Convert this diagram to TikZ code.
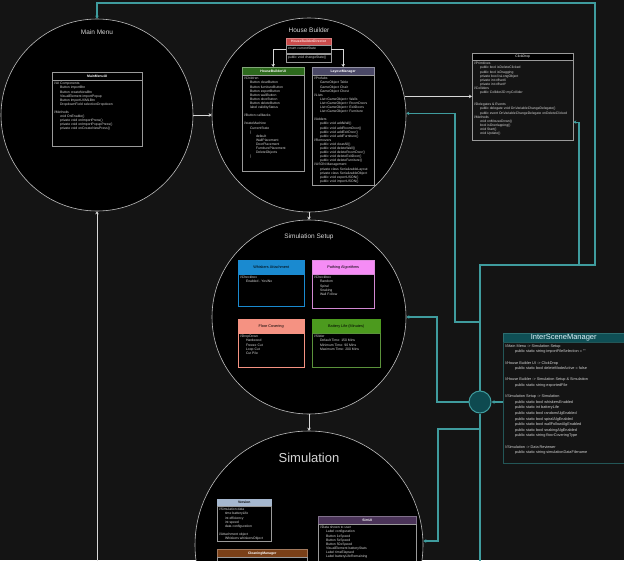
\documentclass[tikz,border=0pt]{standalone}
\usepackage{fontspec}
\setmainfont{Liberation Sans}
\usetikzlibrary{arrows.meta,positioning}
\definecolor{bgdark}{HTML}{141414}
\definecolor{ringgray}{HTML}{BDBDBD}
\definecolor{boxgray}{HTML}{9A9A9A}
\definecolor{textgray}{HTML}{D6D6D6}
\definecolor{flowgray}{HTML}{D8D8D8}
\definecolor{linkteal}{HTML}{3F9C9E}
\definecolor{hubfill}{HTML}{0E4A50}
\definecolor{dirred}{HTML}{C94B4B}
\definecolor{uigreen}{HTML}{2D6A1D}
\definecolor{lmpurple}{HTML}{4A4866}
\definecolor{wablue}{HTML}{1A8AD0}
\definecolor{papink}{HTML}{F58CF5}
\definecolor{fcsalmon}{HTML}{F59282}
\definecolor{blgreen}{HTML}{4C9A1E}
\definecolor{verblue}{HTML}{A6B8CF}
\definecolor{cmbrown}{HTML}{7A4018}
\definecolor{suipurple}{HTML}{4A3358}
\definecolor{ismteal}{HTML}{0F4F55}
\newcommand{\indA}{\hspace*{6pt}}
\newcommand{\indB}{\hspace*{10pt}}
\tikzset{
  scene/.style={circle, draw=ringgray, fill=black, line width=0.6pt, inner sep=0pt, minimum size=194},
  scenetitle/.style={text=textgray, font=\fontsize{6.5}{7}\selectfont},
  hdr/.style={anchor=north west, draw=boxgray, fill=black, line width=0.4pt, inner sep=0pt, minimum height=8, text=white, font=\fontsize{3.4}{4}\selectfont\bfseries},
  sshdr/.style={hdr, minimum height=14, text=black, font=\fontsize{3.8}{4}\selectfont},
  body/.style={draw=boxgray, fill=black, line width=0.4pt, inner sep=0pt},
  txt/.style={anchor=north west, text=textgray, align=left, inner sep=1.8pt, font=\fontsize{3.4}{4.1}\selectfont},
  flow/.style={draw=flowgray, line width=0.8pt, -{Stealth[length=3pt,width=3.5pt]}},
  link/.style={draw=linkteal, line width=1.1pt},
  linkarr/.style={link, -{Stealth[length=3pt,width=3.5pt]}},
  hub/.style={circle, draw=linkteal, fill=hubfill, line width=1pt, inner sep=0pt, minimum size=22},
}
\begin{document}
\begin{tikzpicture}[x=1pt, y=-1pt]
  \useasboundingbox (0,0) rectangle (624,560);
  \fill[bgdark] (0,0) rectangle (624,560);

  % --- Scenes ---
  \node[scene, minimum size=192] (mm) at (97,115) {};
  \node[scene] (hb) at (309,115) {};
  \node[scene] (ss) at (309,317) {};
  \node[scene, minimum size=228] (sim) at (309,545) {};

  \node[scenetitle] (mmtitle) at (97,32) {Main Menu};
  \node[scenetitle] (hbtitle) at (309,30) {House Builder};
  \node[scenetitle] (sstitle) at (309,237) {Simulation Setup};
  \node[scenetitle, font=\fontsize{13}{14}\selectfont] (simtitle) at (309,458) {Simulation};

  % --- Main Menu ---
  \node[hdr, minimum width=90] (mmhdr) at (52,72) {MainMenuUI};
  \node[body, minimum width=90, minimum height=66, below=0pt of mmhdr] (mmbody) {};
  \node[txt] (mmtxt) at (mmbody.north west) {//UI Components\\
    \indA Button importBtn\\ \indA Button createNewBtn\\ \indA VisualElement importPopup\\
    \indA Button ImportUXMLBtn\\ \indA DropdownField selectionDropdown\\[4.1pt]
    //Methods\\ \indA void OnEnable()\\ \indA private void onImportPress()\\
    \indA private void onImportPopupPress()\\ \indA private void onCreateNewPress()};

  % --- House Builder ---
  \node[hdr, minimum width=45, minimum height=7, fill=dirred, draw=dirred!70!white, text=red!15!white] (dirhdr) at (286,38) {HouseBuilderDirector};
  \node[body, minimum width=45, minimum height=8, below=0pt of dirhdr] (dirstate) {};
  \node[body, minimum width=45, minimum height=8, below=0pt of dirstate] (dirmeth) {};
  \node[txt] (dirstatetxt) at (dirstate.north west) {enum currentState};
  \node[txt] (dirmethtxt) at (dirmeth.north west) {public void changeState()};

  \node[hdr, minimum width=62, fill=uigreen, draw=uigreen!60!white] (hbuihdr) at (242,67) {HouseBuilderUI};
  \node[body, minimum width=62, minimum height=96, below=0pt of hbuihdr] (hbuibody) {};
  \node[txt] (hbuitxt) at (hbuibody.north west) {//Children\\
    \indA Button clearButton\\ \indA Button furnitureButton\\ \indA Button exportButton\\
    \indA Button wallButton\\ \indA Button doorButton\\ \indA Button deleteButton\\
    \indA label validityStatus\\[4.1pt]
    //Button callbacks\\[4.1pt]
    //stateMachine\\ \indA CurrentState\\ \indA \{\\
    \indA\indA default\\ \indA\indA WallPlacement\\ \indA\indA DoorPlacement\\
    \indA\indA FurniturePlacement\\ \indA\indA DeleteObjects\\ \indA \}};

  \node[hdr, minimum width=62, fill=lmpurple, draw=lmpurple!60!white] (lmhdr) at (312,67) {LayoutManager};
  \node[body, minimum width=62, minimum height=110, below=0pt of lmhdr] (lmbody) {};
  \node[txt] (lmtxt) at (lmbody.north west) {//Prefabs\\
    \indA GameObject Table\\ \indA GameObject Chair\\ \indA GameObject Chest\\
    //Lists\\ \indA List<GameObject> Walls\\ \indA List<GameObject> RoomDoors\\
    \indA List<GameObject> ExitDoors\\ \indA List<GameObject> Furniture\\[4.1pt]
    //Adders\\ \indA public void addWall()\\ \indA public void addRoomDoor()\\
    \indA public void addExitDoor()\\ \indA public void addFurniture()\\
    //Removers\\ \indA public void clearAll()\\ \indA public void deleteWall()\\
    \indA public void deleteRoomDoor()\\ \indA public void deleteExitDoor()\\
    \indA public void deleteFurniture()\\
    //USON Management\\ \indA private class SerializableLayout\\
    \indA private class SerializableObject\\ \indA public void exportUSON()\\
    \indA public void importUSON()};

  \draw[flow] (dirstate.west) -| (hbuihdr.north);
  \draw[flow] (dirstate.east) -| (lmhdr.north);

  % --- ClickDrop ---
  \node[hdr, minimum width=101, minimum height=7, font=\fontsize{3.4}{4}\selectfont] (cdhdr) at (472,53) {ClickDrop};
  \node[body, minimum width=101, minimum height=80, fill=bgdark, below=0pt of cdhdr] (cdbody) {};
  \node[txt] (cdtxt) at (cdbody.north west) {//Primitives\\
    \indA public bool isDeleteClicked\\ \indA public bool isDragging\\
    \indA private bool isLongObject\\ \indA private int offsetX\\ \indA private int offsetY\\
    //Colliders\\ \indA public Collider2D myCollider\\[8.2pt]
    //Delegates \& Events\\
    \indA public delegate void OnVariableChangeDelegate()\\
    \indA public event OnVariableChangeDelegate onDeleteClicked\\
    //Methods\\ \indA void onMouseDown()\\ \indA bool isOverlapping()\\
    \indA void Start()\\ \indA void Update()};

  % --- Simulation Setup ---
  \node[sshdr, minimum width=66, fill=wablue, draw=wablue] (wahdr) at (238,260) {Whiskers Attachment};
  \node[body, minimum width=66, minimum height=32, draw=wablue, below=0pt of wahdr] (wabody) {};
  \node[txt] (watxt) at (wabody.north west) {//Checkbox\\ \indA Enabled - Yes/No};

  \node[sshdr, minimum width=62, fill=papink, draw=papink!80!gray] (pahdr) at (312,260) {Pathing Algorithms};
  \node[body, minimum width=62, minimum height=34, draw=papink!70!gray, below=0pt of pahdr] (pabody) {};
  \node[txt] (patxt) at (pabody.north west) {//Checkbox\\ \indA Random\\ \indA Spiral\\ \indA Snaking\\ \indA Wall Follow};

  \node[sshdr, minimum width=66, fill=fcsalmon, draw=fcsalmon] (fchdr) at (238,319) {Floor Covering};
  \node[body, minimum width=66, minimum height=34, draw=fcsalmon, below=0pt of fchdr] (fcbody) {};
  \node[txt] (fctxt) at (fcbody.north west) {//DropDown\\ \indA Hardwood\\ \indA Freeze Cut\\ \indA Loop Cut\\ \indA Cut Pile};

  \node[sshdr, minimum width=68, fill=blgreen, draw=blgreen] (blhdr) at (312,319) {Battery Life (Minutes)};
  \node[body, minimum width=68, minimum height=34, draw=blgreen!70!gray, below=0pt of blhdr] (blbody) {};
  \node[txt] (bltxt) at (blbody.north west) {//Slider\\ \indA Default Time: 150 Mins\\
    \indA Minimum Time: 90 Mins\\ \indA Maximum Time: 200 Mins};

  % --- Simulation ---
  \node[hdr, minimum width=54, minimum height=7, fill=verblue, draw=verblue, text=black] (verhdr) at (217,499) {Version};
  \node[body, minimum width=54, minimum height=35, below=0pt of verhdr] (verbody) {};
  \node[txt] (vertxt) at (verbody.north west) {//Simulation data\\
    \indA time batteryLife\\ \indA int efficiency\\ \indA int speed\\
    \indA data configuration\\[4.1pt]
    //Attachment object\\ \indA Whiskers whiskersObject};

  \node[hdr, minimum width=90, fill=cmbrown, draw=cmbrown!70!white] (cmhdr) at (217,549) {CleaningManager};
  \node[body, minimum width=90, minimum height=40, below=0pt of cmhdr] (cmbody) {};

  \node[hdr, minimum width=98, fill=suipurple, draw=suipurple!70!white] (suihdr) at (318,516) {SimUI};
  \node[body, minimum width=98, minimum height=60, below=0pt of suihdr] (suibody) {};
  \node[txt] (suitxt) at (suibody.north west) {//Data shown to user\\
    \indA Label configuration\\ \indA Button 1xSpeed\\ \indA Button 5xSpeed\\
    \indA Button 50xSpeed\\ \indA VisualElement batteryStats\\ \indA Label timeElapsed\\
    \indA Label batteryLifeRemaining};

  % --- InterSceneManager ---
  \node[hdr, minimum width=121, minimum height=9, fill=ismteal, draw=linkteal!70!black, text=cyan!12!white, font=\fontsize{7.5}{8}\selectfont] (ismhdr) at (503,333) {InterSceneManager};
  \node[body, minimum width=121, minimum height=121, fill=bgdark, draw=linkteal!55!black, below=0pt of ismhdr] (ismbody) {};
  \node[txt, inner sep=2pt, font=\fontsize{3.8}{5.6}\selectfont] (ismtxt) at (ismbody.north west) {//Main Menu -> Simulation Setup\\
    \indB public static string importFileSelection = ""\\[5.6pt]
    //House Builder UI -> ClickDrop\\
    \indB public static bool deleteModeActive = false\\[5.6pt]
    //House Builder -> Simulation Setup \& Simulation\\
    \indB public static string exportedFile\\[5.6pt]
    //Simulation Setup -> Simulation\\
    \indB public static bool whiskersEnabled\\ \indB public static int batteryLife\\
    \indB public static bool randomAlgEnabled\\ \indB public static bool spiralAlgEnabled\\
    \indB public static bool wallFollowAlgEnabled\\ \indB public static bool snakingAlgEnabled\\
    \indB public static string floorCoveringType\\[5.6pt]
    //Simulation -> Data Reviewer\\
    \indB public static string simulationDataFilename};

  % Scene flow (white)
  \coordinate (drin) at (97,575);
  \draw[flow] (mm) -- (hb);
  \draw[flow] (hb) -- (ss);
  \draw[flow] (ss) -- (sim);
  \draw[flow] (hb.11) -- (hb.11 -| cdbody.west);
  \draw[flow] (drin) -- (mm);

  % Shared data (teal)
  \node[hub] (hub) at (480,402) {};
  \coordinate (busA) at (480,265);
  \coordinate (busB) at (595,265);
  \coordinate (busC) at (595,3);
  \coordinate (cdj) at (579,265);
  \coordinate (hbj) at (480,322);
  \coordinate (hbk) at (455,322);
  \coordinate (ssk) at (437,402);
  \coordinate (simj) at (480,429);
  \coordinate (simk) at (438,429);
  \coordinate (hubout) at (480,575);

  \draw[linkarr] (hub.north) -- (busA) -- (busB) -- (busC) -| (mm.north);
  \draw[linkarr] (cdj) |- (cdbody.-23);
  \draw[linkarr] (hbj) -- (hbk) |- (hb.1);
  \draw[linkarr] (hub.west) -- (ssk) |- (ss.east);
  \draw[linkarr] (simj) -- (simk) |- (sim.2);
  \draw[link] (hub.south) -- (hubout);
  \draw[linkarr] (hub -| ismbody.west) -- (hub.east);
\end{tikzpicture}
\end{document}
